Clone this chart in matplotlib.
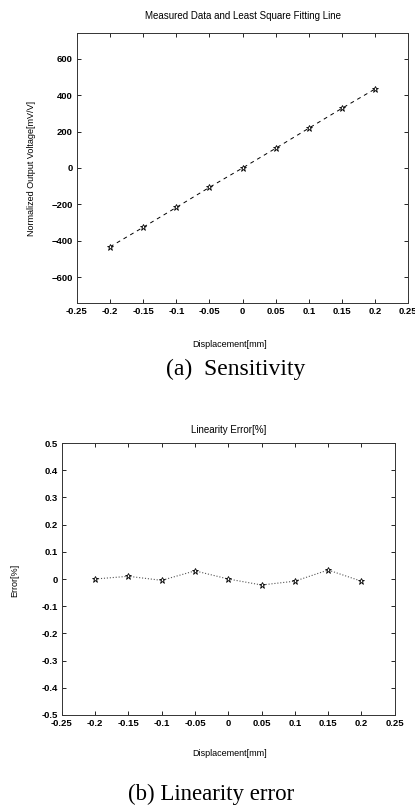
import numpy as np
import matplotlib
matplotlib.use("Agg")
import matplotlib.pyplot as plt

plt.rcParams['font.family'] = ['Liberation Sans', 'DejaVu Sans']

# measured data (a)
disp = [-0.2, -0.15, -0.1, -0.05, 0.0, 0.05, 0.1, 0.15, 0.2]
voltage = [-432, -325, -216, -106, 0, 108, 218, 327, 433]

# linearity error (b)
error = [0.0, 0.01, -0.005, 0.03, 0.0, -0.022, -0.008, 0.033, -0.008]

xticks = [-0.25, -0.2, -0.15, -0.1, -0.05, 0, 0.05, 0.1, 0.15, 0.2, 0.25]
xticklabels = ['-0.25', '-0.2', '-0.15', '-0.1', '-0.05', '0', '0.05', '0.1', '0.15', '0.2', '0.25']
yticks_a = [-600, -400, -200, 0, 200, 400, 600]
yticks_b = [-0.5, -0.4, -0.3, -0.2, -0.1, 0, 0.1, 0.2, 0.3, 0.4, 0.5]
yticklabels_b = ['-0.5', '-0.4', '-0.3', '-0.2', '-0.1', '0', '0.1', '0.2', '0.3', '0.4', '0.5']

fig = plt.figure(figsize=(4.15, 8.09), dpi=100)


def style_axes(ax):
    for s in ax.spines.values():
        s.set_linewidth(0.7)
        s.set_color('#333333')
    ax.tick_params(direction='in', length=3, width=0.6, labelsize=6.8,
                   top=True, right=True, pad=3)
    ax.set_xlim(-0.25, 0.25)
    ax.set_xticks(xticks)
    ax.set_xticklabels(xticklabels)
    for lab in ax.get_xticklabels() + ax.get_yticklabels():
        lab.set_fontweight('bold')


# (a) sensitivity
ax1 = fig.add_axes([0.1855, 0.6255, 0.798, 0.3337])
ax1.plot(disp, voltage, color='black', linestyle='--', dashes=(4, 4), linewidth=0.7,
         marker='*', markersize=5, markerfacecolor='white', markeredgecolor='black',
         markeredgewidth=0.6)
ax1.set_ylim(-740, 740)
ax1.set_yticks(yticks_a)
style_axes(ax1)
ax1.set_title('Measured Data and Least Square Fitting Line', fontsize=7, pad=10)
fig.text(230 / 415, 1 - 345 / 809, 'Displacement[mm]', fontsize=6.5, ha='center', va='center')
fig.text(32 / 415, 1 - 168 / 809, 'Normalized Output Voltage[mV/V]', fontsize=6.5,
         rotation=90, ha='center', va='center')
fig.text(236 / 415, 1 - 369 / 809, '(a)  Sensitivity', fontsize=17,
         family='Liberation Serif', ha='center', va='center')

# (b) linearity error
ax2 = fig.add_axes([0.149, 0.1162, 0.802, 0.3362])
ax2.plot(disp, error, color='#555555', linestyle=':', linewidth=0.8,
         marker='*', markersize=5, markerfacecolor='white', markeredgecolor='black',
         markeredgewidth=0.6)
ax2.set_ylim(-0.5, 0.5)
ax2.set_yticks(yticks_b)
ax2.set_yticklabels(yticklabels_b)
style_axes(ax2)
ax2.set_title('Linearity Error[%]', fontsize=7, pad=7)
fig.text(230 / 415, 1 - 753 / 809, 'Displacement[mm]', fontsize=6.5, ha='center', va='center')
fig.text(15 / 415, 1 - 580 / 809, 'Error[%]', fontsize=6.5,
         rotation=90, ha='center', va='center')
fig.text(211 / 415, 1 - 794 / 809, '(b) Linearity error', fontsize=16.5,
         family='Liberation Serif', ha='center', va='center')

fig.savefig('out.png', dpi=100)
